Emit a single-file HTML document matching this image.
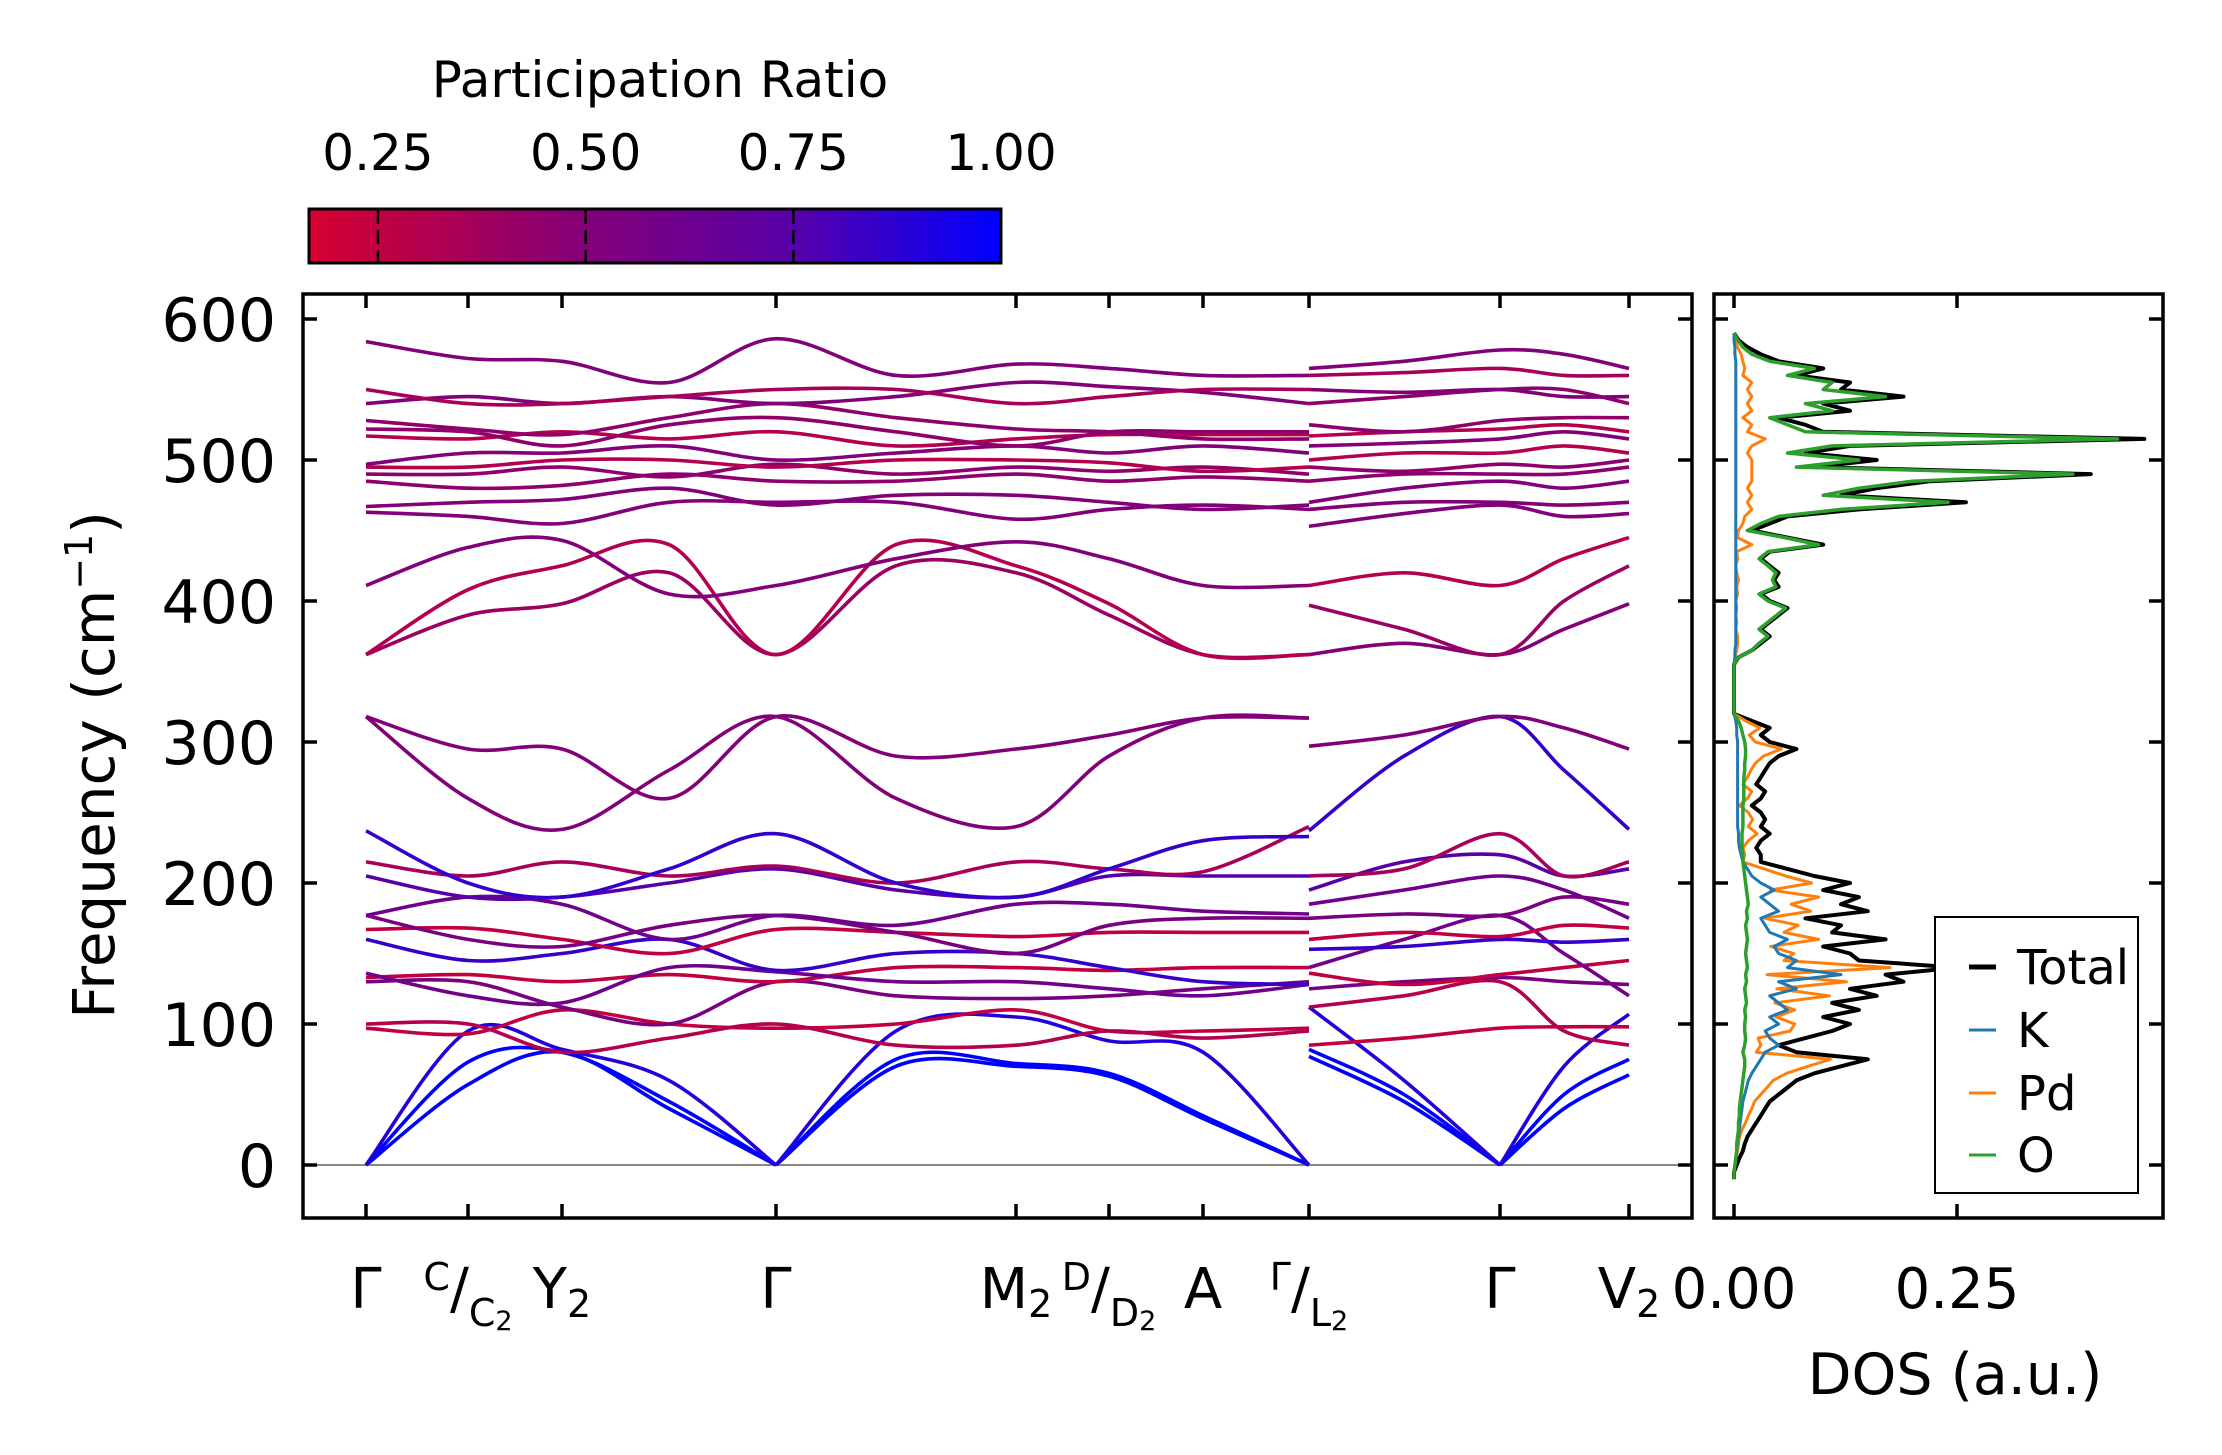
<!DOCTYPE html>
<html><head><meta charset="utf-8">
<style>
html,body{margin:0;padding:0;background:#fff;}
svg{display:block;font-family:"DejaVu Sans","Liberation Sans",sans-serif;}
</style></head>
<body>
<svg id="chart" width="2222" height="1455" viewBox="0 0 2222 1455" xmlns="http://www.w3.org/2000/svg">
<defs>
<linearGradient id="cbgrad" x1="0" x2="1" y1="0" y2="0">
<stop offset="0" stop-color="rgb(214,0,48)"/>
<stop offset="0.4" stop-color="rgb(130,0,120)"/>
<stop offset="0.7" stop-color="rgb(88,0,168)"/>
<stop offset="1" stop-color="rgb(0,0,255)"/>
</linearGradient>
<clipPath id="mainclip"><rect x="303" y="294" width="1389" height="924"/></clipPath>
<clipPath id="dosclip"><rect x="1714" y="294" width="449" height="924"/></clipPath>
</defs>
<g id="colorbar">
<text x="660" y="97" font-size="50" text-anchor="middle">Participation Ratio</text>
<rect x="309" y="209" width="692" height="54" fill="url(#cbgrad)" stroke="#000" stroke-width="3"/>
</g>
<g id="main"></g>
<g id="dos"></g>
</svg>
<script>
// ---- band structure data ----
const kLabels = ["Γ","C/C2","Y2","Γ","M2","D/D2","A","Γ/L2","Γ","V2"];
const kTickPos = [0,1.02,1.96,4.10,6.50,7.43,8.37,9.43,11.34,12.63]; // path distance units
const path1Nodes = [0,1.02,1.96,3.03,4.10,5.30,6.50,7.43,8.37,9.43];
const path2Nodes = [9.43,10.38,11.34,11.98,12.63];
const path1Bands = [
[0,57,80,40,0,70,70,63,33,0],
[0,73,80,45,0,75,72,65,35,0],
[0,95,82,60,0,95,105,88,80,0],
[97,93,110,100,97,100,110,95,95,97],
[100,100,80,90,100,85,85,95,90,95],
[130,130,112,100,130,120,118,120,125,130],
[133,135,130,135,130,140,140,138,140,140],
[136,120,115,140,137,130,130,125,120,128],
[160,145,150,160,138,150,150,140,130,128],
[167,168,160,150,167,165,162,165,165,165],
[177,160,155,170,177,165,150,170,175,175],
[177,190,185,160,177,170,185,185,180,178],
[205,190,190,200,210,195,190,205,205,205],
[215,205,215,205,212,200,215,210,208,240],
[237,200,190,210,235,200,190,210,230,233],
[318,260,238,280,318,260,240,290,317,317],
[318,295,295,260,318,290,295,305,317,317],
[362,390,398,420,362,425,420,390,362,362],
[362,408,425,440,362,440,425,398,362,362],
[411,438,443,405,411,430,442,430,411,411],
[463,460,455,470,470,470,458,465,468,465],
[467,470,472,480,468,475,475,470,465,468],
[485,480,482,490,485,485,490,485,488,485],
[490,490,495,488,497,490,495,492,495,490],
[495,495,500,500,495,500,500,498,492,495],
[497,505,505,510,500,505,510,505,510,505],
[517,515,520,515,520,510,515,518,518,518],
[522,520,510,525,530,520,510,520,520,520],
[528,522,518,530,540,530,522,520,515,515],
[540,545,540,545,540,545,555,552,548,540],
[550,540,540,545,550,550,540,545,550,550],
[584,572,570,555,586,560,568,565,560,560]];
const path2Bands = [
[77,45,0,40,64],[82,50,0,50,75],[112,60,0,70,107],[85,90,97,98,98],
[112,120,130,95,85],[125,130,133,130,128],[136,128,135,140,145],[140,160,177,150,120],
[153,155,160,158,160],[160,165,162,170,168],[175,178,177,190,185],[185,195,205,195,175],
[195,215,220,205,210],[205,210,235,205,215],[237,290,318,280,238],[297,305,318,310,295],
[362,370,362,380,398],[397,380,362,400,425],[411,420,411,430,445],[453,462,468,460,462],
[465,470,470,468,470],[470,480,485,480,485],[485,490,490,490,495],[495,492,497,495,500],
[500,505,505,510,505],[510,512,515,520,515],[517,520,522,525,520],[525,520,528,530,530],
[540,545,550,550,540],[550,548,550,545,545],[560,562,565,560,560],[565,570,578,575,565]];
const bandPR = [1,1,0.9,0.25,0.3,0.55,0.25,0.6,0.85,0.25,0.55,0.6,0.75,0.35,0.85,0.5,0.5,0.4,0.3,0.5,0.5,0.5,0.45,0.45,0.3,0.5,0.3,0.45,0.45,0.5,0.35,0.5];
const freqTicks = [0,100,200,300,400,500,600];
const cbTicks = [0.25,0.50,0.75,1.00];

// ---- DOS data (freq grid -10..590 step 5) ----
const dosTotal = [0,0,
0.003,0.006,0.01,0.012,0.015,0.02,0.025,0.03,0.035,0.04,
0.05,0.06,0.07,0.09,0.12,0.15,0.07,0.05,0.08,0.11,
0.13,0.10,0.14,0.11,0.16,0.13,0.19,0.17,0.25,0.14,
0.13,0.10,0.17,0.11,0.12,0.08,0.15,0.12,0.14,0.10,
0.13,0.09,0.06,0.03,0.03,0.025,0.03,0.04,0.03,0.035,
0.03,0.02,0.03,0.035,0.025,0.03,0.035,0.04,0.05,0.07,
0.04,0.03,0.04,0.02,0,0,0,0,0,0,
0,0,0.005,0.02,0.03,0.04,0.03,0.04,0.05,0.06,
0.04,0.03,0.05,0.045,0.05,0.04,0.03,0.04,0.10,0.06,
0.02,0.04,0.06,0.14,0.26,0.12,0.16,0.22,0.40,0.09,
0.16,0.08,0.13,0.46,0.10,0.08,0.05,0.13,0.10,0.19,
0.12,0.13,0.07,0.10,0.05,0.03,0.015,0.005,0];
const dosK = [0,0,
0.001,0.002,0.003,0.004,0.005,0.006,0.007,0.008,0.009,0.01,
0.012,0.014,0.016,0.02,0.025,0.03,0.035,0.05,0.04,0.035,
0.05,0.04,0.06,0.05,0.04,0.07,0.05,0.12,0.06,0.07,
0.05,0.045,0.06,0.04,0.035,0.03,0.05,0.04,0.03,0.045,
0.03,0.02,0.015,0.01,0.008,0.006,0.005,0.005,0.004,0.004,
0.004,0.004,0.004,0.004,0.004,0.004,0.004,0.004,0.004,0.004,
0.004,0.003,0.003,0.002,0,0,0,0,0,0,
0,0,0.001,0.001,0.002,0.002,0.002,0.002,0.002,0.002,
0.002,0.002,0.002,0.002,0.002,0.002,0.002,0.002,0.002,0.002,
0.002,0.002,0.002,0.002,0.002,0.002,0.002,0.002,0.002,0.002,
0.002,0.002,0.002,0.002,0.002,0.002,0.002,0.002,0.002,0.002,
0.002,0.002,0.002,0.002,0.002,0.001,0.001,0,0];
const dosPd = [0,0,
0.001,0.002,0.004,0.005,0.006,0.009,0.013,0.016,0.02,0.023,
0.03,0.037,0.044,0.059,0.083,0.108,0.025,0.03,0.027,0.063,
0.068,0.047,0.068,0.046,0.107,0.048,0.126,0.037,0.175,0.056,
0.067,0.041,0.095,0.056,0.072,0.035,0.086,0.064,0.095,0.041,
0.087,0.058,0.034,0.01,0.012,0.01,0.016,0.026,0.016,0.021,
0.016,0.006,0.015,0.02,0.01,0.015,0.019,0.024,0.033,0.053,
0.024,0.017,0.029,0.013,0,0,0,0,0,0,
0,0,0.001,0.003,0.004,0.004,0.002,0.003,0.002,0.003,
0.002,0.004,0.003,0.005,0.003,0.002,0.004,0.003,0.02,0.004,
0.005,0.01,0.012,0.02,0.015,0.02,0.015,0.02,0.02,0.02,
0.02,0.015,0.02,0.035,0.015,0.02,0.01,0.02,0.015,0.02,
0.015,0.02,0.01,0.012,0.01,0.008,0.004,0.001,0];
const dosO = [0,0,
0.001,0.002,0.003,0.003,0.004,0.005,0.005,0.006,0.006,0.007,
0.008,0.009,0.01,0.011,0.012,0.012,0.01,0.012,0.013,0.012,
0.012,0.013,0.012,0.014,0.013,0.012,0.014,0.013,0.015,0.014,
0.013,0.014,0.015,0.014,0.013,0.015,0.014,0.016,0.015,0.014,
0.013,0.012,0.011,0.01,0.01,0.009,0.009,0.009,0.01,0.01,
0.01,0.01,0.011,0.011,0.011,0.011,0.012,0.012,0.013,0.013,
0.012,0.01,0.008,0.005,0,0,0,0,0,0,
0,0,0.005,0.02,0.028,0.038,0.028,0.038,0.048,0.058,
0.038,0.028,0.047,0.043,0.047,0.038,0.028,0.038,0.095,0.057,
0.015,0.03,0.05,0.12,0.24,0.1,0.14,0.2,0.38,0.07,
0.14,0.06,0.11,0.43,0.08,0.06,0.04,0.11,0.08,0.17,
0.1,0.11,0.06,0.09,0.04,0.02,0.01,0.004,0];
const dosTicks = [0.00,0.25];

// ---- layout / axes ----
const NS = "http://www.w3.org/2000/svg";
const AX = {l:303, r:1692, t:294, b:1218};
const DX = {l:1714, r:2163};
const yF = f => 1165 - f*1.41;
const xK = k => 366 + k*100;
const xD = v => 1734 + v*892;
const cbX = v => 309 + (v - 0.167)/(1-0.167)*692;

function mk(tag, parent, attrs){ const e=document.createElementNS(NS,tag); for(const k in attrs) e.setAttribute(k,attrs[k]); parent.appendChild(e); return e; }
function prColor(v){
  const st=[[0.167,[214,0,48]],[0.5,[130,0,120]],[0.75,[88,0,168]],[1,[0,0,255]]];
  for(let i=0;i<st.length-1;i++){ if(v<=st[i+1][0]){ const t=Math.max(0,(v-st[i][0])/(st[i+1][0]-st[i][0])); const a=st[i][1],b=st[i+1][1]; return `rgb(${Math.round(a[0]+(b[0]-a[0])*t)},${Math.round(a[1]+(b[1]-a[1])*t)},${Math.round(a[2]+(b[2]-a[2])*t)})`; } }
  return "rgb(0,0,255)";
}
function smoothPath(pts){
  let d=`M${pts[0][0].toFixed(1)},${pts[0][1].toFixed(1)}`;
  for(let i=0;i<pts.length-1;i++){
    const p0=pts[Math.max(0,i-1)],p1=pts[i],p2=pts[i+1],p3=pts[Math.min(pts.length-1,i+2)];
    const c1=[p1[0]+(p2[0]-p0[0])/6, p1[1]+(p2[1]-p0[1])/6];
    const c2=[p2[0]-(p3[0]-p1[0])/6, p2[1]-(p3[1]-p1[1])/6];
    d+=`C${c1[0].toFixed(1)},${c1[1].toFixed(1)} ${c2[0].toFixed(1)},${c2[1].toFixed(1)} ${p2[0].toFixed(1)},${p2[1].toFixed(1)}`;
  }
  return d;
}

const svg = document.getElementById('chart');
const cb = document.getElementById('colorbar');
cbTicks.forEach(v=>{
  const x=cbX(v);
  if(v<1){ const ln=mk('line',cb,{x1:x,y1:210,x2:x,y2:262,stroke:'#000','stroke-width':2.5,'stroke-dasharray':'14,6'});
  
   }
  const t=mk('text',cb,{x:x,y:170,'font-size':50,'text-anchor':'middle'});
  t.textContent=v.toFixed(2);
  
  
});

const main = document.getElementById('main');
const bandsG = mk('g',main,{'clip-path':'url(#mainclip)'});


const zl=mk('line',bandsG,{x1:AX.l,x2:AX.r,y1:yF(0),y2:yF(0),stroke:'#888','stroke-width':2});


function drawBands(nodes,bands,pref){
  bands.forEach((b,i)=>{
    const pts=b.map((f,j)=>[xK(nodes[j]),yF(f)]);
    // split at interior zero-frequency nodes so acoustic branches form sharp cusps
    let segs=[], cur=[pts[0]];
    for(let j=1;j<pts.length;j++){ cur.push(pts[j]); if(b[j]===0 && j<pts.length-1){ segs.push(cur); cur=[pts[j]]; } }
    segs.push(cur);
    const d=segs.map(smoothPath).join(' ');
    const p=mk('path',bandsG,{d:d,fill:'none',stroke:prColor(bandPR[i]),'stroke-width':3.6,'stroke-linejoin':'round'});
    
    
  });
}
drawBands(path1Nodes,path1Bands,'path1');
drawBands(path2Nodes,path2Bands,'path2');

const fr=mk('rect',main,{x:AX.l,y:AX.t,width:AX.r-AX.l,height:AX.b-AX.t,fill:'none',stroke:'#000','stroke-width':3.5});


freqTicks.forEach(f=>{
  const y=yF(f);
  [[AX.l,AX.l+14],[AX.r,AX.r-14]].forEach(s=>{ const l=mk('line',main,{x1:s[0],x2:s[1],y1:y,y2:y,stroke:'#000','stroke-width':3.5});
  
   });
  const t=mk('text',main,{x:276,y:y+22,'font-size':60,'text-anchor':'end'});
  t.textContent=f;
  
  
});
const yt=mk('text',main,{x:0,y:0,'font-size':58,'text-anchor':'middle',transform:'translate(114,765) rotate(-90)'});
yt.innerHTML='Frequency (cm<tspan font-size="38" dy="-22">−1</tspan><tspan dy="22">)</tspan>';


kTickPos.forEach((k,i)=>{
  const x=xK(k);
  [[AX.t,AX.t+14],[AX.b,AX.b-14]].forEach(s=>{ const l=mk('line',main,{x1:x,x2:x,y1:s[0],y2:s[1],stroke:'#000','stroke-width':3.5});
  
   });
  const lab=kLabels[i];
  const t=mk('text',main,{x:x,y:1308,'font-size':56,'text-anchor':'middle'});
  if(lab.indexOf('/')>0){ const a=lab.split('/'); const b=a[1].replace('2','');
    t.innerHTML=`<tspan font-size="38" dy="-18">${a[0]}</tspan><tspan dy="18">/</tspan><tspan font-size="38" dy="18">${b}</tspan><tspan font-size="27" dy="4">2</tspan>`;
  } else if(lab.endsWith('2')){ t.innerHTML=`${lab.slice(0,-1)}<tspan font-size="38" dy="9">2</tspan>`; }
  else t.textContent=lab;
  
  
});

// ---- DOS ----
const dos=document.getElementById('dos');
const dosG=mk('g',dos,{'clip-path':'url(#dosclip)'});


const dosSeries=[['total',dosTotal,'#000',4],['K',dosK,'#1f77b4',3],['Pd',dosPd,'#ff7f0e',3],['O',dosO,'#2ca02c',3.5]];
const order=[0,2,1,3];
order.forEach(i=>{
  const s=dosSeries[i];
  const d=s[1].map((v,j)=>(j?'L':'M')+xD(v).toFixed(1)+','+yF(-10+5*j).toFixed(1)).join('');
  const p=mk('path',dosG,{d:d,fill:'none',stroke:s[2],'stroke-width':s[3],'stroke-linejoin':'round'});
  
  
});
const df=mk('rect',dos,{x:DX.l,y:AX.t,width:DX.r-DX.l,height:AX.b-AX.t,fill:'none',stroke:'#000','stroke-width':3.5});


freqTicks.forEach(f=>{
  const y=yF(f);
  [[DX.l,DX.l+14],[DX.r,DX.r-14]].forEach(s=>{ const l=mk('line',dos,{x1:s[0],x2:s[1],y1:y,y2:y,stroke:'#000','stroke-width':3.5});
  
   });
});
dosTicks.forEach(v=>{
  const x=xD(v);
  [[AX.t,AX.t+14],[AX.b,AX.b-14]].forEach(s=>{ const l=mk('line',dos,{x1:x,x2:x,y1:s[0],y2:s[1],stroke:'#000','stroke-width':3.5});
  
   });
  const t=mk('text',dos,{x:x,y:1308,'font-size':56,'text-anchor':'middle'});
  t.textContent=v.toFixed(2);
  
  
});
const dt=mk('text',dos,{x:1955,y:1394,'font-size':57,'text-anchor':'middle'});
dt.textContent='DOS (a.u.)';


const lg=mk('g',dos,{});


const lb=mk('rect',lg,{x:1935,y:917,width:203,height:276,fill:'#fff',stroke:'#000','stroke-width':2});


const legY=[967,1030,1093,1155];
dosSeries.forEach((s,i)=>{
  const l=mk('line',lg,{x1:1969,x2:1996,y1:legY[i],y2:legY[i],stroke:s[2],'stroke-width':i?3:5});
  
  
  const t=mk('text',lg,{x:2017,y:legY[i]+17,'font-size':48});
  t.textContent=i?s[0]:'Total';
  
  
});
</script>
</body></html>
